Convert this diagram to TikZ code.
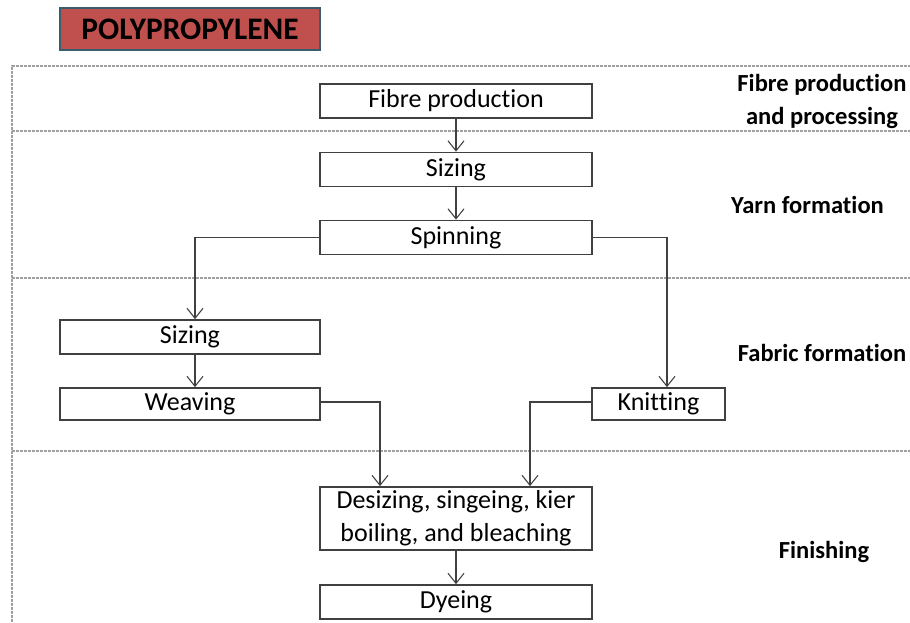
\documentclass[tikz,border=0pt]{standalone}
\usepackage{fontspec}
\setmainfont{Carlito}[Ligatures=NoCommon]
\usepackage{tikz}
\usetikzlibrary{arrows.meta}
\definecolor{titlered}{RGB}{192,80,77}
\definecolor{titleedge}{RGB}{56,93,107}
\definecolor{boxedge}{RGB}{64,64,64}
\definecolor{sepgray}{RGB}{160,160,160}

\begin{document}
\begin{tikzpicture}[x=0.75pt,y=0.75pt,yscale=-1,xscale=1,
    stepbox/.style={draw=boxedge,line width=1.3pt,fill=white,inner sep=0pt,align=center,
        minimum width=204pt,minimum height=25.5pt,font=\fontsize{19.5}{24.75}\selectfont},
    sidelabel/.style={inner sep=0pt,align=center,font=\fontsize{18.4}{24.75}\selectfont\bfseries},
    flow/.style={draw=boxedge,line width=1pt,-{Straight Barb[length=7.5pt,width=12pt,line width=0.8pt]}},
    sepline/.style={draw=sepgray,line width=0.9pt,dash pattern={on 2pt off 1pt}}]
    \path[use as bounding box] (0,0) rectangle (910,622);

    %Shape: Rectangle [title]
    \node [draw=titleedge,line width=1.3pt,fill=titlered,minimum width=195pt,minimum height=31.5pt,inner sep=0pt,
        font=\fontsize{23.5}{27}\selectfont\bfseries] (title) at (190,29) {POLYPROPYLENE};

    %Straight Lines [section frame]
    \draw [sepline] (12,622) -- (12,66) -- (910,66) ;
    \draw [sepline] (12,131) -- (910,131) ;
    \draw [sepline] (12,278) -- (910,278) ;
    \draw [sepline] (12,451) -- (910,451) ;

    %Shape: Rectangle [process steps]
    \node [stepbox] (fibre) at (456,101) {Fibre production};
    \node [stepbox] (sizeA) at (456,169.5) {Sizing};
    \node [stepbox] (spin) at (456,237.5) {Spinning};
    \node [stepbox,minimum width=195pt] (sizeB) at (190,337) {Sizing};
    \node [stepbox,minimum width=195pt,minimum height=24pt] (weave) at (190,404) {Weaving};
    \node [stepbox,minimum width=99.75pt,minimum height=24pt] (knit) at (658.5,404) {Knitting};
    \node [stepbox,minimum height=47.25pt] (desize) at (456,518.5) {Desizing, singeing, kier\\boiling, and bleaching};
    \node [stepbox] (dye) at (456,602) {Dyeing};

    % columns of the bent connectors
    \coordinate (colL) at (195,0);
    \coordinate (colR) at (667,0);
    \coordinate (colW) at (380,0);
    \coordinate (colK) at (530,0);

    %Straight Lines [connectors]
    \draw [flow] (fibre) -- (sizeA) ;
    \draw [flow] (sizeA) -- (spin) ;
    \draw [flow] (spin.west) -| (colL |- sizeB.north) ;
    \draw [flow] (spin.east) -| (colR |- knit.north) ;
    \draw [flow] (colL |- sizeB.south) -- (colL |- weave.north) ;
    \draw [flow] ([yshift=-1.5pt]weave.east) -| (colW |- desize.north) ;
    \draw [flow] ([yshift=-1.5pt]knit.west) -| (colK |- desize.north) ;
    \draw [flow] (desize) -- (dye) ;

    % Text Node
    \node [sidelabel] (lblFibre) at (822,101.5) {Fibre production\\and processing};
    % Text Node
    \node [sidelabel] (lblYarn) at (807.5,205) {Yarn formation};
    % Text Node
    \node [sidelabel] (lblFabric) at (822,353) {Fabric formation};
    % Text Node
    \node [sidelabel] (lblFinish) at (824,552) {Finishing};

\end{tikzpicture}
\end{document}
